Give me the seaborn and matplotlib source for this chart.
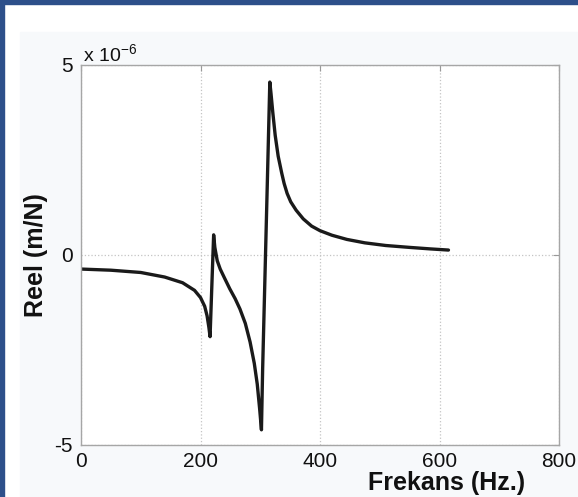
import matplotlib
matplotlib.use("Agg")
import matplotlib.pyplot as plt
import seaborn as sns
import pandas as pd
from matplotlib.patches import Rectangle

# ---- data ----
frekans_hz = [0, 50, 100, 140, 170, 190, 200, 207, 211, 214, 216, 219, 222, 224,
              228, 233, 240, 249, 258, 266, 275, 283, 290, 295, 299, 302, 304,
              308, 312, 316, 318, 321, 325, 330, 336, 340, 345, 351, 360, 372,
              386, 400, 420, 445, 475, 510, 550, 585, 615]
reel_e6 = [-0.37, -0.40, -0.46, -0.58, -0.73, -0.93, -1.12, -1.35, -1.6, -1.9,
           -2.15, -0.8, 0.53, 0.2, -0.15, -0.37, -0.6, -0.89, -1.15, -1.42,
           -1.8, -2.29, -2.85, -3.4, -4.05, -4.6, -3.0, -0.5, 2.0, 4.55, 4.25,
           3.75, 3.15, 2.6, 2.15, 1.88, 1.62, 1.4, 1.18, 0.95, 0.76, 0.64,
           0.52, 0.41, 0.32, 0.25, 0.2, 0.16, 0.13]
x_ticks = [0, 200, 400, 600, 800]
y_ticks = [-5, 0, 5]
x_label = "Frekans (Hz.)"
y_label = "Reel (m/N)"
exp_label = r"x 10$^{\mathdefault{-6}}$"

df = pd.DataFrame({"f": frekans_hz, "r": reel_e6})

sns.set_style("white")
plt.rcParams["font.family"] = ["Liberation Sans", "DejaVu Sans"]
plt.rcParams["mathtext.fontset"] = "custom"
plt.rcParams["mathtext.rm"] = "Liberation Sans"

W, H = 578, 497
fig = plt.figure(figsize=(W / 100, H / 100), dpi=100, facecolor="white")
# light figure background and blue frame
fig.patches.append(Rectangle((20 / W, 0), 1, 1 - 32 / H, transform=fig.transFigure,
                             color="#f7f9fb", zorder=-10))
fig.patches.append(Rectangle((0, 0), 4 / W, 1, transform=fig.transFigure,
                             color="#2d4f8a", zorder=10))
fig.patches.append(Rectangle((0, 1 - 4 / H), 1, 4 / H, transform=fig.transFigure,
                             color="#2d4f8a", zorder=10))

left, right, top, bottom = 81, 559, 65, 445
ax = fig.add_axes([left / W, 1 - bottom / H, (right - left) / W, (bottom - top) / H])
ax.set_facecolor("white")

sns.lineplot(data=df, x="f", y="r", ax=ax, color="#1a1a1a", linewidth=2.4,
             estimator=None, sort=False)

ax.set_xlim(0, 800)
ax.set_ylim(-5, 5)
ax.set_xticks(x_ticks)
ax.set_yticks(y_ticks)
ax.set_xticklabels([str(t) for t in x_ticks])
ax.set_yticklabels([str(t) for t in y_ticks])
ax.tick_params(direction="in", length=4, width=0.8, color="#999999",
               labelsize=15, labelcolor="#111111", pad=5)
ax.tick_params(axis="y", pad=6)
ax.tick_params(top=True, right=True)
for s in ax.spines.values():
    s.set_color("#a6a6a6")
    s.set_linewidth(1.0)

ax.grid(True, linestyle=":", color="#c4c4c4", linewidth=0.9)

ax.set_xlabel(x_label, fontsize=18, fontweight="bold", color="#111111")
ax.set_ylabel(y_label, fontsize=18, fontweight="bold", color="#111111")
ax.xaxis.set_label_coords(0.764, -0.069)
ax.yaxis.set_label_coords(-0.068, 0.5)

ax.text(0.004, 1.008, exp_label, transform=ax.transAxes, fontsize=14,
        color="#111111", ha="left", va="baseline")

fig.savefig("out.png", dpi=100, facecolor=fig.get_facecolor())
